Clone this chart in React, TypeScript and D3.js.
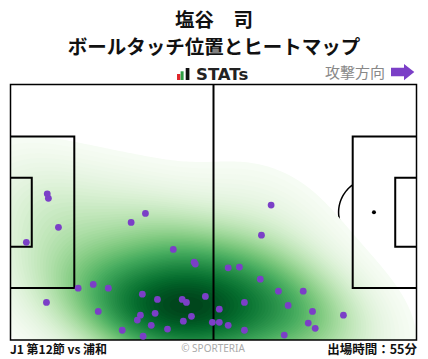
import React, { useMemo } from "react";
import * as d3 from "d3";

// Pitch dimensions (metres)
const PITCH_LENGTH = 105;
const PITCH_WIDTH = 68;

// Ball-touch positions [x metres along pitch (attack →), y metres from top]
const touchX = [9.5, 9.8, 12.4, 4.1, 31.2, 34.9, 42.1, 47.5, 47.8, 67.4, 64.9, 56.3, 59.2, 17.5, 21.4, 25.3, 9.3, 22.7, 34.1, 33.6, 32.8, 28.9, 34.3, 36.4, 38.0, 44.4, 45.5, 50.4, 37.4, 46.8, 44.7, 40.6, 52.2, 64.6, 69.3, 60.5, 54.0, 54.0, 56.3, 60.5, 75.7, 71.8, 78.1, 86.1, 77.0, 78.8, 70.8];
const touchY = [29.1, 30.3, 38.0, 42.0, 36.7, 34.3, 43.9, 47.3, 47.8, 32.1, 40.1, 48.8, 48.6, 54.2, 53.2, 54.2, 58.0, 60.4, 55.8, 61.4, 62.7, 65.4, 67.0, 64.1, 57.2, 57.2, 58.0, 56.4, 60.9, 61.7, 63.0, 65.1, 63.3, 51.8, 55.0, 58.0, 59.8, 63.3, 64.1, 65.4, 55.0, 58.8, 60.4, 61.4, 63.5, 64.9, 66.7];

const titleLines = ["塩谷　司", "ボールタッチ位置とヒートマップ"];
const matchLabel = "J1 第12節 vs 浦和";
const minutesLabel = "出場時間：55分";

const W = 428;
const H = 359;
const X0 = 10.5, X1 = 416.5, Y0 = 84.5, Y1 = 340;

export default function App() {
  const xS = d3.scaleLinear().domain([0, PITCH_LENGTH]).range([X0, X1]);
  const yS = d3.scaleLinear().domain([0, PITCH_WIDTH]).range([Y0, Y1]);

  const heat = useMemo(() => {
    const px = touchX.map((v) => xS(v));
    const py = touchY.map((v) => yS(v));
    const n = px.length;
    const mx = d3.mean(px)!, my = d3.mean(py)!;
    let sxx = 0, syy = 0, sxy = 0;
    for (let i = 0; i < n; i++) {
      sxx += (px[i] - mx) ** 2;
      syy += (py[i] - my) ** 2;
      sxy += (px[i] - mx) * (py[i] - my);
    }
    sxx /= n - 1; syy /= n - 1; sxy /= n - 1;
    const ax = 1.2, ay = 2.0;
    const f2 = Math.pow(n, -1 / 3);
    const cxx = sxx * f2 * ax * ax, cyy = syy * f2 * ay * ay, cxy = sxy * f2 * ax * ay;
    const det = cxx * cyy - cxy * cxy;
    const ixx = cyy / det, iyy = cxx / det, ixy = -cxy / det;
    const cell = 3;
    const gx0 = -140, gy0 = -60;
    const nx = 240, ny = 190;
    const values = new Float64Array(nx * ny);
    for (let j = 0; j < ny; j++) {
      const y = gy0 + j * cell;
      for (let i = 0; i < nx; i++) {
        const x = gx0 + i * cell;
        let s = 0;
        for (let k = 0; k < n; k++) {
          const dx = x - px[k], dy = y - py[k];
          s += Math.exp(-0.5 * (dx * dx * ixx + 2 * dx * dy * ixy + dy * dy * iyy));
        }
        values[j * nx + i] = s;
      }
    }
    const sorted = Array.from(values).sort((a, b) => a - b);
    const total = d3.sum(sorted);
    let cum = 0, d0 = sorted[0];
    for (const v of sorted) {
      cum += v;
      if (cum >= 0.04 * total) { d0 = v; break; }
    }
    const dmax = sorted[sorted.length - 1];
    const N = 70;
    const ths = d3.range(N).map((i) => d0 + ((dmax - d0) * i) / N);
    const contours = d3.contours().size([nx, ny]).thresholds(ths)(Array.from(values));
    const proj = d3.geoIdentity().scale(cell).translate([gx0 - cell * 0.5, gy0 - cell * 0.5]);
    const path = d3.geoPath(proj as any);
    return contours.map((c, i) => {
      const lo = ths[i];
      const hi = i + 1 < N ? ths[i + 1] : dmax;
      const t = ((lo + hi) / 2 - d0) / (dmax - d0);
      return { d: path(c as any) || "", color: d3.interpolateGreens(Math.min(1, t)) };
    });
  }, []);

  const pbL = 16.5, pbW = 40.32, gaL = 5.5, gaW = 18.32, spot = 11, rad = 9.15;
  const cy = PITCH_WIDTH / 2;
  const arcPts = (cx: number, dir: number) => {
    const a = Math.acos((pbL - spot) / rad);
    return d3.range(-a, a + 1e-6, (2 * a) / 30).map((t) => [
      xS(cx + dir * rad * Math.cos(t)),
      yS(cy + rad * Math.sin(t)),
    ] as [number, number]);
  };
  const line = d3.line();

  const lineStyle = { fill: "none", stroke: "#000", strokeWidth: 2 };
  const jp = "'Noto Sans CJK JP', 'Noto Sans', sans-serif";

  return (
    <svg width={W} height={H} style={{ position: "absolute", left: 0, top: 0, background: "#fff" }}>
      <defs>
        <clipPath id="pitchClip">
          <rect x={X0} y={Y0} width={X1 - X0} height={Y1 - Y0} />
        </clipPath>
      </defs>
      <text x={214} y={27} textAnchor="middle" fontFamily={jp} fontWeight={700} fontSize={19.5} fill="#111">{titleLines[0]}</text>
      <text x={214} y={53.5} textAnchor="middle" fontFamily={jp} fontWeight={700} fontSize={19.5} fill="#111">{titleLines[1]}</text>

      {/* STATs logo */}
      <rect x={177} y={74} width={3.3} height={6} fill="#e0262b" />
      <rect x={180.6} y={71.3} width={3} height={8.7} fill="#2f9e44" />
      <rect x={185.7} y={68} width={3.7} height={12} fill="#111" />
      <text x={196} y={80} fontFamily="'DejaVu Sans', sans-serif" fontWeight={700} fontSize={16.5} fill="#222">STATs</text>

      <text x={325} y={78} fontFamily={jp} fontSize={15} fill="#888">攻撃方向</text>
      <path d="M391,67.7 L404,67.7 L404,64 L414.3,72 L404,80.3 L404,76.3 L391,76.3 Z" fill="#7b3fc7" />

      {/* pitch */}
      <rect x={X0} y={Y0} width={X1 - X0} height={Y1 - Y0} fill="#fff" />
      <g clipPath="url(#pitchClip)">
        <path d={line(arcPts(spot, 1)) || ""} {...lineStyle} strokeWidth={1.5} />
        <path d={line(arcPts(PITCH_LENGTH - spot, -1)) || ""} {...lineStyle} strokeWidth={1.5} />
        <circle cx={xS(PITCH_LENGTH / 2)} cy={yS(cy)} r={xS(rad) - xS(0)} {...lineStyle} strokeWidth={1.5} />
        <circle cx={xS(spot)} cy={yS(cy)} r={2} fill="#000" />
        <circle cx={xS(PITCH_LENGTH - spot)} cy={yS(cy)} r={2} fill="#000" />
        {heat.map((h, i) => (
          <path key={i} d={h.d} fill={h.color} stroke="none" />
        ))}
      </g>
      {/* lines */}
      <line x1={xS(PITCH_LENGTH / 2)} x2={xS(PITCH_LENGTH / 2)} y1={Y0} y2={Y1} stroke="#000" strokeWidth={2} />
      <path d={`M${xS(0)},${yS(cy - pbW / 2)} H${xS(pbL)} V${yS(cy + pbW / 2)} H${xS(0)}`} {...lineStyle} />
      <path d={`M${xS(0)},${yS(cy - gaW / 2)} H${xS(gaL)} V${yS(cy + gaW / 2)} H${xS(0)}`} {...lineStyle} />
      <path d={`M${xS(PITCH_LENGTH)},${yS(cy - pbW / 2)} H${xS(PITCH_LENGTH - pbL)} V${yS(cy + pbW / 2)} H${xS(PITCH_LENGTH)}`} {...lineStyle} />
      <path d={`M${xS(PITCH_LENGTH)},${yS(cy - gaW / 2)} H${xS(PITCH_LENGTH - gaL)} V${yS(cy + gaW / 2)} H${xS(PITCH_LENGTH)}`} {...lineStyle} />
      <rect x={X0} y={Y0} width={X1 - X0} height={Y1 - Y0} fill="none" stroke="#000" strokeWidth={1.5} />

      {touchX.map((x, i) => (
        <circle key={i} cx={xS(x)} cy={yS(touchY[i])} r={3.4} fill="#7b3fc7" />
      ))}

      <text x={10} y={353.5} fontFamily={jp} fontWeight={700} fontSize={12} fill="#111">{matchLabel}</text>
      <text x={213} y={352} textAnchor="middle" fontFamily="'Noto Sans', sans-serif" fontSize={10} fill="#aaa">© SPORTERIA</text>
      <text x={417} y={353.5} textAnchor="end" fontFamily={jp} fontWeight={700} fontSize={12.5} fill="#111">{minutesLabel}</text>
    </svg>
  );
}
